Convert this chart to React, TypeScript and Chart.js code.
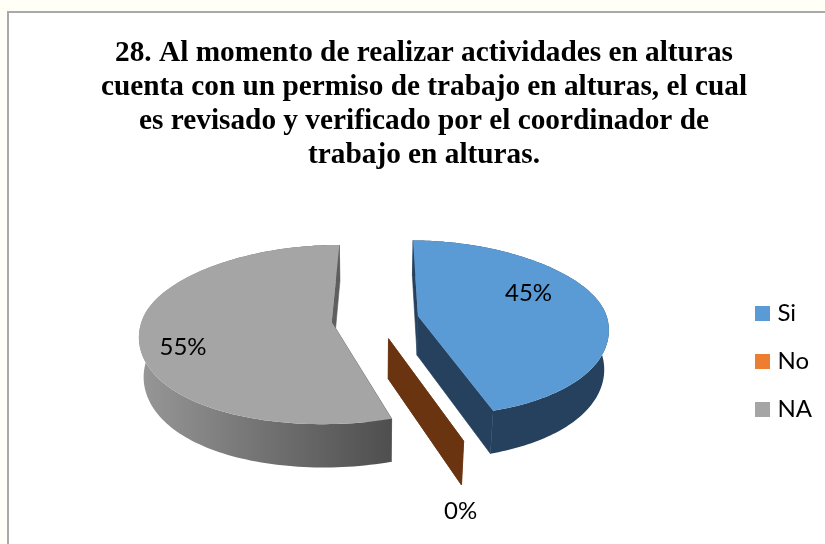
import React, { useEffect, useRef } from "react";
import { Chart, registerables } from "chart.js";

Chart.register(...registerables);

const titleLines = [
  "28. Al momento de realizar actividades en alturas",
  "cuenta con un permiso de trabajo en alturas, el cual",
  "es revisado y verificado por el coordinador de",
  "trabajo en alturas.",
];
const categories = ["Si", "No", "NA"];
const shares = [45, 0, 55];
const topColors = ["#5b9bd5", "#ed7d31", "#a5a5a5"];
const wallColors = ["#25415e", "#6b3410", "#5a5a5a"];

// Projection of the tilted, exploded disc
const EXPLODE = 0.23;
const VIEW = { cx: 375, cy: 319, ax: 189.5, ay: 87, kx: 0.12, qx: 0.05, ky: 0.14, depth: 40, m: 0.02 };
const LABEL_RADIUS = [0.58, 1, 0.78];
const LABEL_NUDGE = [[4, -15], [-3, 70], [1, 15]];

function project(x: number, y: number, z: number) {
  const wx = 1 - VIEW.kx * y - VIEW.qx * y * Math.abs(y) + VIEW.m * z;
  const wy = 1 - VIEW.ky * y + VIEW.m * z;
  return { x: VIEW.cx + (VIEW.ax * x) / wx, y: VIEW.cy + (VIEW.ay * y + VIEW.depth * z) / wy };
}

function trace(ctx: CanvasRenderingContext2D, pts: { x: number; y: number }[]) {
  ctx.beginPath();
  pts.forEach((p, i) => (i ? ctx.lineTo(p.x, p.y) : ctx.moveTo(p.x, p.y)));
  ctx.closePath();
}

const pie3d = {
  id: "pie3d",
  beforeDatasetDraw: () => false,
  beforeDatasetsDraw(chart: any) {
    const ctx: CanvasRenderingContext2D = chart.ctx;
    const arcs = chart.getDatasetMeta(0).data;
    const order = [2, 1, 0];
    const grad = ctx.createLinearGradient(140, 0, 390, 0);
    grad.addColorStop(0, "#979797");
    grad.addColorStop(0.5, "#727272");
    grad.addColorStop(1, "#4f4f4f");
    ctx.save();
    order.forEach((i) => {
      const { startAngle: a0, endAngle: a1 } = arcs[i];
      const mid = (a0 + a1) / 2;
      const ox = EXPLODE * Math.cos(mid);
      const oy = EXPLODE * Math.sin(mid);
      const steps = 140;
      const rim: { x: number; y: number }[] = [];
      const base: { x: number; y: number }[] = [];
      for (let s = 0; s <= steps; s++) {
        const a = a0 + ((a1 - a0) * s) / steps;
        rim.push(project(ox + Math.cos(a), oy + Math.sin(a), 0));
        base.push(project(ox + Math.cos(a), oy + Math.sin(a), 1));
      }
      const apexTop = project(ox, oy, 0);
      const apexBase = project(ox, oy, 1);
      const wall = i === 2 ? grad : wallColors[i];
      ctx.fillStyle = wall;
      ctx.strokeStyle = wall;
      ctx.lineWidth = 0.6;
      // the two cut walls
      trace(ctx, [apexTop, rim[0], base[0], apexBase]);
      ctx.fill();
      ctx.stroke();
      trace(ctx, [apexTop, rim[steps], base[steps], apexBase]);
      ctx.fill();
      ctx.stroke();
      // outer band
      trace(ctx, [...rim, ...base.slice().reverse()]);
      ctx.fill();
      // top face
      if (a1 - a0 > 0) {
        ctx.fillStyle = topColors[i];
        trace(ctx, [apexTop, ...rim]);
        ctx.fill();
      }
    });
    ctx.restore();
  },
  afterDatasetsDraw(chart: any) {
    const ctx: CanvasRenderingContext2D = chart.ctx;
    const arcs = chart.getDatasetMeta(0).data;
    const total = shares.reduce((s, v) => s + v, 0);
    ctx.save();
    ctx.fillStyle = "#000000";
    ctx.font = "24px Lato";
    ctx.textAlign = "center";
    ctx.textBaseline = "middle";
    arcs.forEach((arc: any, i: number) => {
      const mid = (arc.startAngle + arc.endAngle) / 2;
      const r = LABEL_RADIUS[i] + EXPLODE;
      const p = project(r * Math.cos(mid), r * Math.sin(mid), 0);
      const text = Math.round((shares[i] / total) * 100) + "%";
      ctx.fillText(text, p.x + LABEL_NUDGE[i][0], p.y + LABEL_NUDGE[i][1]);
    });
    ctx.restore();
  },
};

function swatch(color: string) {
  const c = document.createElement("canvas");
  c.width = 15;
  c.height = 15;
  const g = c.getContext("2d")!;
  g.fillStyle = color;
  g.fillRect(0, 0, 15, 15);
  return c;
}

export default function App() {
  const ref = useRef<HTMLCanvasElement>(null);
  useEffect(() => {
    const chart = new Chart(ref.current!, {
      type: "pie",
      data: {
        labels: categories,
        datasets: [{ data: shares, backgroundColor: topColors, borderWidth: 0 }],
      },
      plugins: [pie3d],
      options: {
        animation: false,
        responsive: false,
        rotation: 0.5,
        layout: { padding: { left: 26, right: 3, top: 0, bottom: 0 } },
        plugins: {
          tooltip: { enabled: false },
          title: {
            display: true,
            text: titleLines,
            color: "#000000",
            font: { family: "'Liberation Serif'", size: 29.3, weight: "bold", lineHeight: 1.16 },
            padding: { top: 36, bottom: 7 },
          },
          legend: {
            position: "right",
            fullSize: false,
            labels: {
              color: "#000000",
              font: { family: "Lato", size: 24 },
              usePointStyle: true,
              pointStyleWidth: 5,
              boxWidth: 5,
              boxHeight: 15,
              padding: 24,
              generateLabels: (c: any) =>
                (Chart as any).overrides.doughnut.plugins.legend.labels
                  .generateLabels(c)
                  .map((it: any, i: number) => ({ ...it, pointStyle: swatch(topColors[i]) })),
            },
          },
        },
      } as any,
    });
    return () => chart.destroy();
  }, []);
  return (
    <div style={{ position: "fixed", left: 0, top: 0, width: 825, height: 544, background: "#fffff8", overflow: "hidden" }}>
      <div style={{ position: "absolute", left: 7, top: 11, right: 0, bottom: 0, background: "#ffffff", borderLeft: "2px solid #a9a9a9", borderTop: "2px solid #a9a9a9" }} />
      <canvas ref={ref} width={825} height={544} style={{ position: "absolute", left: 0, top: 0 }} />
    </div>
  );
}
